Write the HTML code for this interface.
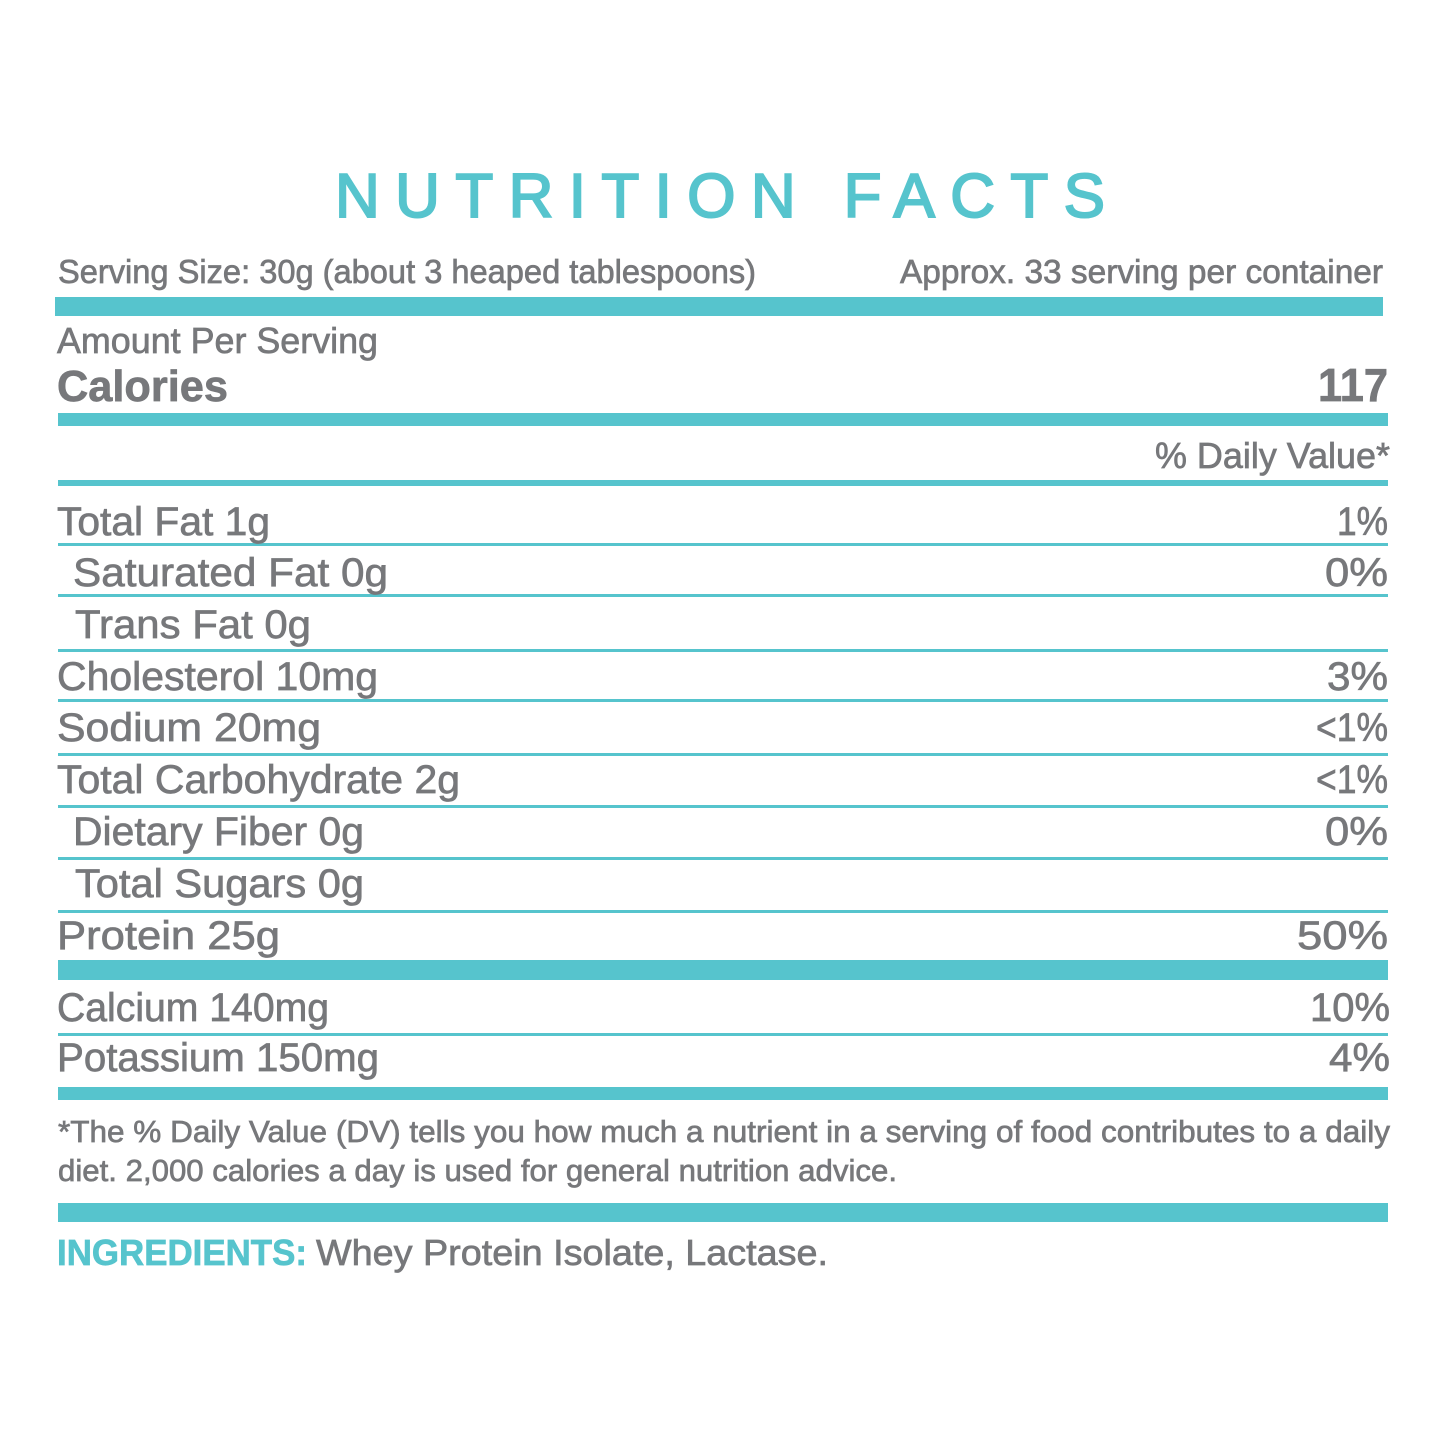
<!DOCTYPE html>
<html><head><meta charset="utf-8"><style>
html,body{margin:0;padding:0;background:#fff;}
svg{display:block;}
text{font-family:"Liberation Sans",sans-serif;fill:#77787b;stroke:#77787b;stroke-width:0.7px;}
</style></head><body>
<svg width="1445" height="1445" viewBox="0 0 1445 1445" xmlns="http://www.w3.org/2000/svg">
<rect width="1445" height="1445" fill="#fff"/>
<g fill="#56c4cd">
<rect x="55" y="297" width="1328" height="19"/>
<rect x="58" y="413" width="1330" height="13"/>
<rect x="58" y="480" width="1330" height="6"/>
<rect x="58" y="543" width="1330" height="3"/>
<rect x="58" y="594" width="1330" height="3"/>
<rect x="58" y="649" width="1330" height="3"/>
<rect x="58" y="699" width="1330" height="3"/>
<rect x="58" y="753" width="1330" height="3"/>
<rect x="58" y="805" width="1330" height="3"/>
<rect x="58" y="857" width="1330" height="3"/>
<rect x="58" y="910" width="1330" height="3"/>
<rect x="58" y="960" width="1330" height="20"/>
<rect x="58" y="1033" width="1330" height="3"/>
<rect x="58" y="1087" width="1330" height="13"/>
<rect x="58" y="1203" width="1330" height="19"/>
</g>
<text x="335" y="217" font-size="62" textLength="770" lengthAdjust="spacing" style="fill:#56c4cd;stroke:#56c4cd;stroke-width:2px">NUTRITION FACTS</text>
<g font-size="33">
<text x="58" y="283" textLength="698" lengthAdjust="spacingAndGlyphs">Serving Size: 30g (about 3 heaped tablespoons)</text>
<text x="900" y="283" textLength="483" lengthAdjust="spacingAndGlyphs">Approx. 33 serving per container</text>
</g>
<text x="57" y="353" font-size="36" textLength="321" lengthAdjust="spacingAndGlyphs">Amount Per Serving</text>
<text x="57" y="401" font-size="44" font-weight="bold" textLength="171" lengthAdjust="spacingAndGlyphs">Calories</text>
<text x="1318" y="401" font-size="46" font-weight="bold" textLength="70" lengthAdjust="spacingAndGlyphs">117</text>
<text x="1155" y="468" font-size="36" textLength="235" lengthAdjust="spacingAndGlyphs">% Daily Value*</text>
<g font-size="40">
<text x="57" y="535" textLength="213" lengthAdjust="spacingAndGlyphs">Total Fat  1g</text>
<text x="73" y="586" textLength="315" lengthAdjust="spacingAndGlyphs">Saturated Fat  0g</text>
<text x="75" y="638" textLength="236" lengthAdjust="spacingAndGlyphs">Trans Fat  0g</text>
<text x="57" y="690" textLength="321" lengthAdjust="spacingAndGlyphs">Cholesterol  10mg</text>
<text x="57" y="741" textLength="264" lengthAdjust="spacingAndGlyphs">Sodium  20mg</text>
<text x="57" y="793" textLength="403" lengthAdjust="spacingAndGlyphs">Total Carbohydrate  2g</text>
<text x="73" y="845" textLength="291" lengthAdjust="spacingAndGlyphs">Dietary Fiber  0g</text>
<text x="75" y="897" textLength="289" lengthAdjust="spacingAndGlyphs">Total Sugars  0g</text>
<text x="57" y="949" textLength="223" lengthAdjust="spacingAndGlyphs">Protein  25g</text>
<text x="57" y="1021" textLength="272" lengthAdjust="spacingAndGlyphs">Calcium  140mg</text>
<text x="57" y="1071" textLength="322" lengthAdjust="spacingAndGlyphs">Potassium  150mg</text>
<text x="1337" y="535" textLength="51" lengthAdjust="spacingAndGlyphs">1%</text>
<text x="1325" y="586" textLength="63" lengthAdjust="spacingAndGlyphs">0%</text>
<text x="1327" y="690" textLength="61" lengthAdjust="spacingAndGlyphs">3%</text>
<text x="1316" y="741" textLength="72" lengthAdjust="spacingAndGlyphs">&lt;1%</text>
<text x="1316" y="793" textLength="72" lengthAdjust="spacingAndGlyphs">&lt;1%</text>
<text x="1325" y="845" textLength="63" lengthAdjust="spacingAndGlyphs">0%</text>
<text x="1297" y="949" textLength="91" lengthAdjust="spacingAndGlyphs">50%</text>
<text x="1310" y="1021" textLength="80" lengthAdjust="spacingAndGlyphs">10%</text>
<text x="1329" y="1071" textLength="61" lengthAdjust="spacingAndGlyphs">4%</text>
</g>
<g font-size="31">
<text x="58" y="1142" textLength="1332" lengthAdjust="spacingAndGlyphs">*The % Daily Value (DV) tells you how much a nutrient in a serving of food contributes to a daily</text>
<text x="58" y="1181" textLength="839" lengthAdjust="spacingAndGlyphs">diet. 2,000 calories a day is used for general nutrition advice.</text>
</g>
<text x="57" y="1265" font-size="36" font-weight="bold" textLength="250" lengthAdjust="spacingAndGlyphs" style="fill:#56c4cd;stroke:#56c4cd">INGREDIENTS:</text>
<text x="316" y="1265" font-size="36" textLength="512" lengthAdjust="spacingAndGlyphs">Whey Protein Isolate, Lactase.</text>
</svg>
</body></html>
